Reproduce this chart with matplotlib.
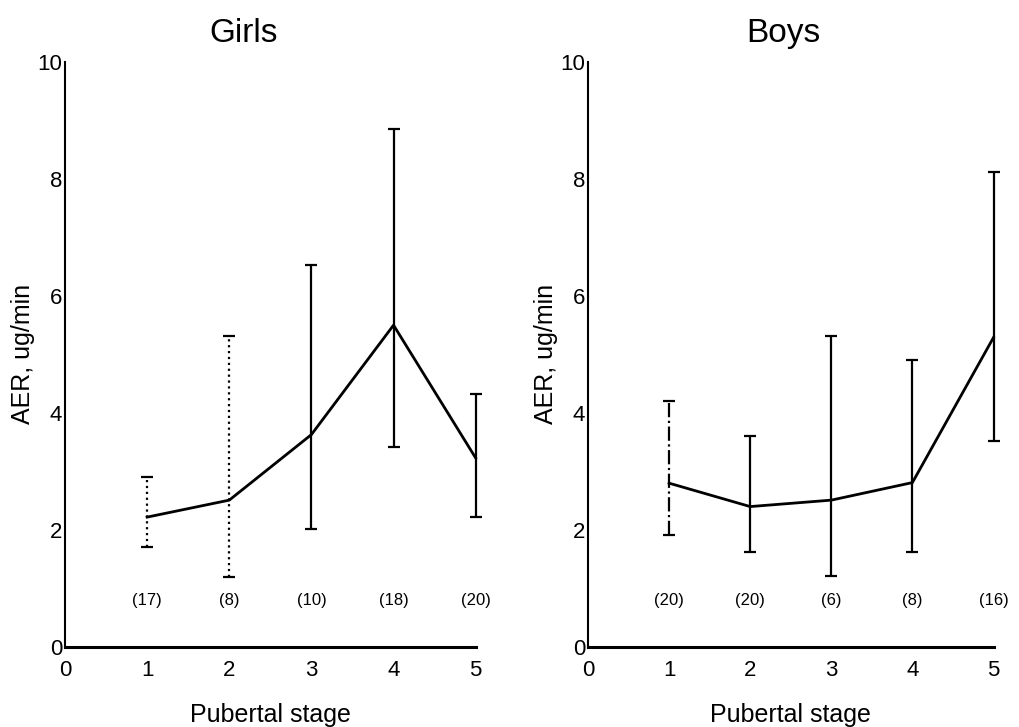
import matplotlib
matplotlib.use('Agg')
import matplotlib.pyplot as plt

# data
stages = [1, 2, 3, 4, 5]

girls_mean = [2.22, 2.51, 3.63, 5.50, 3.23]
girls_low = [1.71, 1.20, 2.02, 3.42, 2.22]
girls_high = [2.90, 5.32, 6.52, 8.85, 4.33]
girls_n = ['(17)', '(8)', '(10)', '(18)', '(20)']
girls_style = [':', ':', '-', '-', '-']

boys_mean = [2.80, 2.40, 2.51, 2.81, 5.29]
boys_low = [1.91, 1.62, 1.22, 1.62, 3.52]
boys_high = [4.21, 3.61, 5.31, 4.91, 8.11]
boys_n = ['(20)', '(20)', '(6)', '(8)', '(16)']
boys_style = ['-.', '-', '-', '-', '-']

plt.rcParams['font.family'] = ['Liberation Sans', 'DejaVu Sans']


def draw_panel(ax, title, title_x, mean, low, high, counts, styles):
    yerr = [[m - lo for m, lo in zip(mean, low)],
            [hi - m for m, hi in zip(mean, high)]]
    eb = ax.errorbar(stages, mean, yerr=yerr, fmt='none', ecolor='black',
                     elinewidth=1.6, capsize=4, capthick=1.6, clip_on=False)
    eb[2][0].set_linestyle(styles)
    ax.plot(stages, mean, color='black', linewidth=2, clip_on=False)

    for s, c in zip(stages, counts):
        ax.text(s, 0.8, c, ha='center', va='center', fontsize=12)

    ax.set_xlim(0, 5)
    ax.set_ylim(0, 10)
    ax.set_xticks([0, 1, 2, 3, 4, 5])
    ax.set_yticks([0, 2, 4, 6, 8, 10])
    ax.tick_params(axis='both', length=0, labelsize=16)
    ax.tick_params(axis='x', pad=9)
    ax.tick_params(axis='y', pad=2)

    ax.spines['top'].set_visible(False)
    ax.spines['right'].set_visible(False)
    ax.spines['left'].set_linewidth(1.5)
    ax.spines['bottom'].set_linewidth(2.2)

    ax.set_title(title, fontsize=24, pad=14, x=title_x)
    ax.set_xlabel('Pubertal stage', fontsize=18, labelpad=16)
    ax.set_ylabel('AER, ug/min', fontsize=18, labelpad=2)


fig = plt.figure(figsize=(10.19, 7.27), dpi=100)
ax1 = fig.add_axes([0.0638, 0.110, 0.403, 0.805])
ax2 = fig.add_axes([0.577, 0.110, 0.398, 0.805])

draw_panel(ax1, 'Girls', 0.435, girls_mean, girls_low, girls_high, girls_n, girls_style)
draw_panel(ax2, 'Boys', 0.483, boys_mean, boys_low, boys_high, boys_n, boys_style)

fig.savefig('out.png', dpi=100)
